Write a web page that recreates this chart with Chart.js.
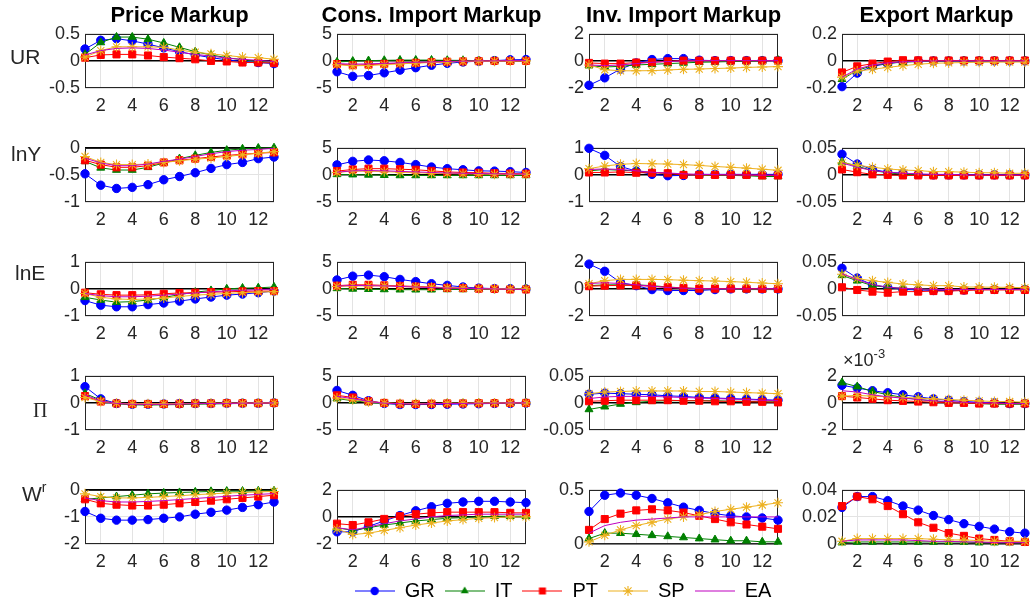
<!DOCTYPE html>
<html>
<head>
<meta charset="utf-8">
<script src="https://cdn.jsdelivr.net/npm/chart.js@4.4.1/dist/chart.umd.min.js"></script>
<style>
  html, body { margin: 0; padding: 0; background: #fff; overflow: hidden; width: 1031px; height: 603px; }
  body { position: relative; font-family: "Liberation Sans", Arial, sans-serif; }
  canvas { position: absolute; }
  .txt { position: absolute; white-space: nowrap; }
  .title { font-weight: bold; font-size: 22px; line-height: 22px; color: #000; transform: translateX(-50%); }
  .rowlab { font-size: 21px; line-height: 21px; color: #262626; }
</style>
</head>
<body>
<script>
// Impulse responses, horizons 1..13, one array per panel, rows in country order
const horizons = [1, 2, 3, 4, 5, 6, 7, 8, 9, 10, 11, 12, 13];
const countries = ['GR', 'IT', 'PT', 'SP', 'EA'];
const columnTitles = ['Price Markup', 'Cons. Import Markup', 'Inv. Import Markup', 'Export Markup'];
const xTickValues = [2, 4, 6, 8, 10, 12];

// UR
const urPrice = [
  [0.22, 0.38, 0.41, 0.37, 0.31, 0.24, 0.17, 0.11, 0.06, 0.02, -0.01, -0.03, -0.05],
  [0.12, 0.34, 0.44, 0.44, 0.40, 0.33, 0.25, 0.17, 0.11, 0.06, 0.02, -0.01, -0.03],
  [0.06, 0.11, 0.12, 0.12, 0.10, 0.07, 0.05, 0.03, 0.00, -0.01, -0.03, -0.03, -0.04],
  [0.07, 0.19, 0.26, 0.26, 0.26, 0.25, 0.20, 0.16, 0.13, 0.10, 0.07, 0.06, 0.03],
  [0.11, 0.19, 0.23, 0.24, 0.23, 0.20, 0.16, 0.12, 0.09, 0.05, 0.03, 0.01, -0.01]
];
const urCons = [
  [-2.0, -2.85, -2.7, -2.2, -1.7, -1.25, -0.8, -0.45, -0.2, -0.05, 0.05, 0.2, 0.25],
  [-0.2, -0.05, 0.05, 0.1, 0.15, 0.15, 0.15, 0.1, 0.1, 0.05, 0.05, 0.0, 0.0],
  [-0.6, -0.8, -0.7, -0.55, -0.45, -0.35, -0.25, -0.15, -0.1, -0.05, 0.0, 0.0, 0.0],
  [-0.7, -0.9, -0.85, -0.7, -0.55, -0.4, -0.3, -0.2, -0.1, -0.05, -0.05, 0.0, 0.0],
  [-0.5, -0.6, -0.55, -0.45, -0.35, -0.25, -0.2, -0.1, -0.05, 0.0, 0.0, 0.05, 0.05]
];
const urInv = [
  [-1.8, -1.25, -0.6, -0.15, 0.1, 0.17, 0.17, 0.05, 0.02, 0.02, 0.02, 0.02, 0.02],
  [-0.35, -0.45, -0.4, -0.3, -0.25, -0.2, -0.15, -0.1, -0.08, -0.05, -0.03, 0.0, 0.05],
  [-0.15, -0.2, -0.2, -0.12, -0.1, -0.03, 0.02, 0.02, 0.02, 0.02, 0.02, 0.02, 0.02],
  [-0.3, -0.65, -0.73, -0.73, -0.72, -0.67, -0.62, -0.6, -0.56, -0.53, -0.48, -0.45, -0.42],
  [-0.3, -0.35, -0.3, -0.2, -0.1, -0.05, 0.0, 0.02, 0.02, 0.02, 0.02, 0.02, 0.02]
];
const urExport = [
  [-0.19, -0.09, -0.04, -0.02, -0.005, 0.0, 0.0, 0.0, 0.0, 0.0, 0.0, 0.0, 0.0],
  [-0.135, -0.07, -0.035, -0.017, -0.01, -0.005, -0.002, 0.0, 0.0, 0.0, 0.0, 0.0, 0.0],
  [-0.085, -0.04, -0.02, -0.005, 0.005, 0.004, 0.003, 0.003, 0.003, 0.003, 0.003, 0.003, 0.003],
  [-0.12, -0.075, -0.062, -0.048, -0.035, -0.025, -0.017, -0.015, -0.012, -0.01, -0.009, -0.009, -0.008],
  [-0.12, -0.06, -0.03, -0.015, -0.007, -0.003, 0.0, 0.0, 0.0, 0.0, 0.0, 0.0, 0.0]
];

// lnY
const lnYPrice = [
  [-0.48, -0.69, -0.75, -0.73, -0.68, -0.59, -0.53, -0.46, -0.38, -0.31, -0.27, -0.20, -0.17],
  [-0.25, -0.37, -0.41, -0.41, -0.36, -0.28, -0.20, -0.14, -0.085, -0.045, -0.02, -0.005, 0.0],
  [-0.23, -0.31, -0.36, -0.36, -0.33, -0.27, -0.23, -0.20, -0.17, -0.14, -0.12, -0.10, -0.085],
  [-0.16, -0.27, -0.31, -0.31, -0.30, -0.27, -0.24, -0.21, -0.19, -0.16, -0.13, -0.10, -0.07],
  [-0.19, -0.28, -0.33, -0.33, -0.30, -0.25, -0.21, -0.16, -0.11, -0.07, -0.045, -0.03, -0.01]
];
const lnYCons = [
  [1.85, 2.5, 2.75, 2.6, 2.3, 1.9, 1.45, 1.15, 0.95, 0.75, 0.7, 0.6, 0.45],
  [0.1, 0.05, 0.0, -0.05, -0.1, -0.1, -0.1, -0.1, -0.1, -0.1, -0.1, -0.1, -0.1],
  [0.7, 1.0, 1.15, 1.15, 1.05, 0.95, 0.75, 0.55, 0.45, 0.4, 0.3, 0.25, 0.2],
  [0.45, 0.7, 0.7, 0.6, 0.5, 0.4, 0.3, 0.25, 0.2, 0.15, 0.1, 0.1, 0.1],
  [0.5, 0.75, 0.8, 0.75, 0.65, 0.55, 0.45, 0.35, 0.3, 0.25, 0.2, 0.15, 0.15]
];
const lnYInv = [
  [0.98, 0.72, 0.31, 0.14, 0.02, -0.03, -0.02, 0.02, 0.02, 0.02, 0.02, 0.02, 0.02],
  [0.15, 0.2, 0.17, 0.15, 0.09, 0.06, 0.02, 0.0, -0.02, -0.02, -0.03, -0.06, -0.06],
  [0.09, 0.09, 0.11, 0.08, 0.08, 0.06, 0.0, 0.0, 0.0, 0.0, 0.0, -0.02, -0.02],
  [0.23, 0.33, 0.39, 0.42, 0.41, 0.4, 0.38, 0.35, 0.31, 0.28, 0.25, 0.21, 0.17],
  [0.2, 0.22, 0.2, 0.15, 0.1, 0.07, 0.04, 0.02, 0.01, 0.0, 0.0, -0.01, -0.01]
];
const lnYExport = [
  [0.038, 0.02, 0.01, 0.005, 0.003, 0.001, 0.0, 0.0, 0.0, 0.0, 0.0, 0.0, 0.0],
  [0.024, 0.016, 0.008, 0.004, 0.001, 0.0, -0.001, -0.001, -0.001, -0.001, -0.001, -0.001, -0.001],
  [0.01, 0.005, 0.001, 0.0, -0.001, -0.001, -0.001, -0.001, -0.001, -0.001, -0.001, -0.001, -0.001],
  [0.022, 0.018, 0.014, 0.011, 0.009, 0.008, 0.006, 0.006, 0.005, 0.004, 0.004, 0.003, 0.003],
  [0.022, 0.014, 0.008, 0.005, 0.003, 0.002, 0.001, 0.001, 0.0, 0.0, 0.0, 0.0, 0.0]
];

// lnE
const lnEPrice = [
  [-0.43, -0.6, -0.66, -0.66, -0.58, -0.52, -0.45, -0.37, -0.3, -0.23, -0.19, -0.14, -0.08],
  [-0.31, -0.41, -0.49, -0.47, -0.41, -0.32, -0.21, -0.12, -0.06, 0.0, 0.03, 0.04, 0.07],
  [-0.14, -0.2, -0.23, -0.23, -0.22, -0.18, -0.15, -0.14, -0.12, -0.11, -0.09, -0.08, -0.08],
  [-0.17, -0.31, -0.37, -0.39, -0.37, -0.34, -0.28, -0.23, -0.2, -0.17, -0.14, -0.12, -0.1],
  [-0.17, -0.25, -0.29, -0.29, -0.27, -0.23, -0.19, -0.15, -0.11, -0.07, -0.05, -0.03, -0.01]
];
const lnECons = [
  [1.65, 2.35, 2.55, 2.25, 1.75, 1.35, 0.95, 0.65, 0.35, 0.15, 0.05, 0.05, 0.0],
  [0.1, 0.0, -0.05, -0.1, -0.15, -0.15, -0.15, -0.1, -0.1, -0.05, -0.05, 0.0, 0.0],
  [0.6, 0.75, 0.75, 0.65, 0.55, 0.45, 0.35, 0.2, 0.15, 0.05, 0.0, -0.1, -0.1],
  [0.45, 0.55, 0.55, 0.55, 0.45, 0.35, 0.3, 0.2, 0.15, 0.05, 0.05, 0.0, 0.0],
  [0.5, 0.65, 0.6, 0.55, 0.45, 0.35, 0.25, 0.15, 0.1, 0.05, 0.0, -0.05, -0.1]
];
const lnEInv = [
  [1.83, 1.3, 0.47, 0.24, -0.05, -0.12, -0.12, -0.12, -0.05, 0.0, 0.0, 0.0, 0.0],
  [0.24, 0.3, 0.3, 0.3, 0.24, 0.14, 0.07, 0.02, 0.0, 0.0, -0.05, -0.05, -0.05],
  [0.2, 0.24, 0.26, 0.26, 0.19, 0.12, 0.07, 0.02, 0.02, 0.02, 0.02, 0.0, 0.0],
  [0.38, 0.61, 0.7, 0.7, 0.7, 0.68, 0.64, 0.61, 0.58, 0.54, 0.49, 0.43, 0.38],
  [0.4, 0.45, 0.4, 0.3, 0.2, 0.1, 0.05, 0.02, 0.0, 0.0, 0.0, 0.0, 0.0]
];
const lnEExport = [
  [0.038, 0.02, 0.0075, 0.003, -0.001, -0.002, -0.003, -0.003, -0.002, -0.001, -0.001, -0.001, -0.001],
  [0.025, 0.015, 0.006, 0.003, 0.001, 0.0, -0.001, -0.001, -0.001, -0.001, -0.001, -0.001, -0.001],
  [0.003, -0.002, -0.005, -0.007, -0.005, -0.005, -0.004, -0.004, -0.003, -0.002, -0.002, -0.002, -0.002],
  [0.027, 0.019, 0.015, 0.012, 0.009, 0.0075, 0.006, 0.006, 0.0035, 0.0035, 0.003, 0.003, 0.002],
  [0.028, 0.017, 0.008, 0.003, 0.001, 0.0, -0.001, -0.001, -0.001, -0.001, -0.001, -0.001, -0.001]
];

// Inflation
const piPrice = [
  [0.6, 0.15, -0.02, -0.05, -0.05, -0.04, -0.03, -0.02, -0.02, -0.01, -0.01, -0.01, 0.0],
  [0.35, 0.1, -0.03, -0.07, -0.08, -0.07, -0.06, -0.05, -0.04, -0.03, -0.02, -0.02, -0.01],
  [0.25, 0.05, -0.02, -0.04, -0.04, -0.04, -0.03, -0.02, -0.02, -0.01, -0.01, -0.01, 0.0],
  [0.2, 0.05, -0.01, -0.03, -0.03, -0.03, -0.02, -0.02, -0.01, -0.01, -0.01, 0.0, 0.0],
  [0.3, 0.07, -0.02, -0.05, -0.05, -0.05, -0.04, -0.03, -0.02, -0.02, -0.01, -0.01, 0.0]
];
const piCons = [
  [2.3, 1.4, 0.4, -0.1, -0.3, -0.3, -0.3, -0.25, -0.2, -0.15, -0.1, -0.1, -0.05],
  [0.8, 0.4, 0.1, -0.1, -0.2, -0.2, -0.15, -0.1, -0.1, -0.05, -0.05, 0.0, 0.0],
  [1.4, 1.0, 0.3, 0.0, -0.15, -0.2, -0.15, -0.1, -0.1, -0.05, -0.05, 0.0, 0.0],
  [0.9, 0.6, 0.2, 0.0, -0.1, -0.1, -0.1, -0.05, -0.05, 0.0, 0.0, 0.0, 0.0],
  [1.2, 0.8, 0.25, -0.05, -0.15, -0.2, -0.15, -0.1, -0.1, -0.05, -0.05, 0.0, 0.0]
];
const piInv = [
  [0.016, 0.018, 0.017, 0.016, 0.015, 0.013, 0.012, 0.01, 0.009, 0.008, 0.007, 0.006, 0.005],
  [-0.012, -0.007, -0.002, 0.001, 0.003, 0.004, 0.004, 0.004, 0.004, 0.003, 0.003, 0.002, 0.002],
  [0.003, 0.004, 0.005, 0.005, 0.005, 0.005, 0.004, 0.004, 0.003, 0.003, 0.002, 0.002, 0.001],
  [0.017, 0.02, 0.021, 0.022, 0.022, 0.022, 0.022, 0.021, 0.021, 0.02, 0.019, 0.018, 0.017],
  [0.008, 0.011, 0.012, 0.012, 0.012, 0.011, 0.01, 0.009, 0.008, 0.007, 0.006, 0.005, 0.004]
];
const piExport = [
  [1.3e-3, 1.1e-3, 0.9e-3, 0.75e-3, 0.6e-3, 0.45e-3, 0.3e-3, 0.2e-3, 0.1e-3, 0.05e-3, 0.0, -0.05e-3, -0.05e-3],
  [1.5e-3, 1.2e-3, 0.85e-3, 0.6e-3, 0.4e-3, 0.25e-3, 0.15e-3, 0.05e-3, 0.0, -0.05e-3, -0.1e-3, -0.1e-3, -0.1e-3],
  [0.5e-3, 0.4e-3, 0.3e-3, 0.2e-3, 0.15e-3, 0.1e-3, 0.05e-3, 0.0, 0.0, -0.05e-3, -0.05e-3, -0.05e-3, -0.05e-3],
  [0.5e-3, 0.55e-3, 0.5e-3, 0.45e-3, 0.4e-3, 0.35e-3, 0.3e-3, 0.25e-3, 0.2e-3, 0.15e-3, 0.1e-3, 0.1e-3, 0.05e-3],
  [0.9e-3, 0.8e-3, 0.6e-3, 0.45e-3, 0.35e-3, 0.25e-3, 0.15e-3, 0.1e-3, 0.05e-3, 0.0, 0.0, -0.05e-3, -0.05e-3]
];

// Real wage
const wrPrice = [
  [-0.8, -1.05, -1.12, -1.12, -1.1, -1.05, -1.0, -0.9, -0.83, -0.75, -0.65, -0.55, -0.45],
  [-0.35, -0.3, -0.25, -0.2, -0.15, -0.12, -0.1, -0.08, -0.06, -0.05, -0.05, -0.04, -0.04],
  [-0.35, -0.5, -0.55, -0.58, -0.58, -0.55, -0.5, -0.45, -0.4, -0.35, -0.3, -0.25, -0.2],
  [-0.15, -0.25, -0.3, -0.3, -0.28, -0.25, -0.22, -0.18, -0.15, -0.12, -0.1, -0.08, -0.06],
  [-0.3, -0.4, -0.45, -0.45, -0.43, -0.4, -0.36, -0.32, -0.28, -0.24, -0.2, -0.17, -0.14]
];
const wrCons = [
  [-1.1, -1.1, -0.7, -0.3, 0.1, 0.45, 0.75, 1.0, 1.1, 1.15, 1.15, 1.1, 1.05],
  [-0.8, -1.0, -0.8, -0.6, -0.45, -0.3, -0.2, -0.1, -0.05, 0.0, 0.05, 0.05, 0.05],
  [-0.5, -0.6, -0.4, -0.15, 0.05, 0.2, 0.3, 0.35, 0.35, 0.35, 0.35, 0.3, 0.3],
  [-0.9, -1.3, -1.2, -1.0, -0.8, -0.6, -0.45, -0.3, -0.2, -0.1, -0.05, 0.0, 0.0],
  [-0.8, -0.95, -0.75, -0.5, -0.3, -0.15, 0.0, 0.1, 0.15, 0.2, 0.2, 0.2, 0.2]
];
const wrInv = [
  [0.3, 0.45, 0.47, 0.45, 0.42, 0.38, 0.34, 0.31, 0.28, 0.26, 0.25, 0.24, 0.22],
  [0.05, 0.1, 0.1, 0.09, 0.08, 0.07, 0.06, 0.05, 0.04, 0.03, 0.03, 0.02, 0.02],
  [0.13, 0.23, 0.28, 0.31, 0.32, 0.31, 0.29, 0.26, 0.23, 0.2, 0.18, 0.16, 0.14],
  [0.02, 0.08, 0.13, 0.17, 0.2, 0.23, 0.25, 0.27, 0.3, 0.32, 0.34, 0.36, 0.38],
  [0.1, 0.17, 0.2, 0.22, 0.23, 0.24, 0.25, 0.25, 0.25, 0.25, 0.25, 0.25, 0.25]
];
const wrExport = [
  [0.027, 0.035, 0.035, 0.032, 0.028, 0.025, 0.021, 0.018, 0.015, 0.013, 0.011, 0.009, 0.008],
  [0.001, 0.0015, 0.0015, 0.0015, 0.0015, 0.0015, 0.0015, 0.0015, 0.0015, 0.001, 0.001, 0.001, 0.001],
  [0.028, 0.035, 0.033, 0.028, 0.022, 0.016, 0.012, 0.008, 0.006, 0.004, 0.003, 0.002, 0.0015],
  [0.002, 0.004, 0.004, 0.004, 0.004, 0.004, 0.0035, 0.003, 0.003, 0.0025, 0.002, 0.002, 0.002],
  [0.002, 0.003, 0.003, 0.003, 0.003, 0.0025, 0.002, 0.002, 0.0015, 0.0015, 0.001, 0.001, 0.001]
];

// y tick labels per panel
const yTicksGrid = [
  [[-0.5, 0, 0.5], [-5, 0, 5], [-2, 0, 2], [-0.2, 0, 0.2]],
  [[-1, -0.5, 0], [-5, 0, 5], [-1, 0, 1], [-0.05, 0, 0.05]],
  [[-1, 0, 1], [-5, 0, 5], [-2, 0, 2], [-0.05, 0, 0.05]],
  [[-1, 0, 1], [-5, 0, 5], [-0.05, 0, 0.05], [-0.002, 0, 0.002]],
  [[-2, -1, 0], [-2, 0, 2], [0, 0.5], [0, 0.02, 0.04]]
];
const panelData = [
  [urPrice, urCons, urInv, urExport],
  [lnYPrice, lnYCons, lnYInv, lnYExport],
  [lnEPrice, lnECons, lnEInv, lnEExport],
  [piPrice, piCons, piInv, piExport],
  [wrPrice, wrCons, wrInv, wrExport]
];

// ---- layout and style ----
const FONT = '"Liberation Sans", Arial, sans-serif';
Chart.defaults.font.family = FONT;
const plotLeft = [85, 337, 589, 842];
const plotTop = [30, 144, 258, 372, 486];
const plotW = 189, plotH = 58;
const padL = 72, padT = 12, padB = 32;
const pageW = 1031;

const seriesStyle = [
  { color: '#0000ff', pointStyle: 'circle',   radius: 4.2 },
  { color: '#008000', pointStyle: 'triangle', radius: 4.6 },
  { color: '#ff0000', pointStyle: 'rect',     radius: 5.0 },
  { color: '#edb120', pointStyle: 'star',     radius: 5.0 },
  { color: '#bf00bf', pointStyle: false,      radius: 0 }
];

function fmtTick(v) {
  const n = Number(v.toPrecision(6));
  return (n === 0 ? 0 : n).toString();
}

const framePlugin = {
  id: 'frame',
  beforeDatasetsDraw(chart) {
    const { ctx, chartArea: a } = chart;
    ctx.save();
    ctx.strokeStyle = '#262626';
    ctx.lineWidth = 1;
    ctx.strokeRect(Math.round(a.left) + 0.5, Math.round(a.top) + 0.5,
                   Math.round(a.right - a.left) - 1, Math.round(a.bottom - a.top) - 1);
    ctx.restore();
  }
};

function addText(html, cls, left, top, extra) {
  const d = document.createElement('div');
  d.className = 'txt ' + cls;
  d.style.left = left + 'px';
  d.style.top = top + 'px';
  if (extra) Object.assign(d.style, extra);
  d.innerHTML = html;
  document.body.appendChild(d);
  return d;
}

function makePanel(r, c) {
  const series = panelData[r][c];
  const ticks = yTicksGrid[r][c];
  const scaled = (r === 3 && c === 3);
  // keep the right-most canvases inside the page
  const padR = Math.max(0, Math.min(8, pageW - (plotLeft[c] + plotW)));
  const cv = document.createElement('canvas');
  cv.width = padL + plotW + padR;
  cv.height = padT + plotH + padB;
  cv.style.left = (plotLeft[c] - padL) + 'px';
  cv.style.top = (plotTop[r] - padT) + 'px';
  document.body.appendChild(cv);

  const datasets = series.map((vals, i) => {
    const s = seriesStyle[i];
    return {
      label: countries[i],
      data: horizons.map((h, k) => ({ x: h, y: vals[k] })),
      borderColor: s.color,
      backgroundColor: s.color,
      borderWidth: 1,
      pointStyle: s.pointStyle,
      pointRadius: s.radius,
      pointBorderWidth: i === 3 ? 1.1 : 1,
      pointBackgroundColor: s.color,
      pointBorderColor: s.color,
      tension: 0,
      clip: 7,
      order: 5 - i
    };
  });

  new Chart(cv, {
    type: 'line',
    data: { datasets },
    options: {
      responsive: false,
      animation: false,
      devicePixelRatio: 1,
      events: [],
      layout: { padding: { top: padT, right: padR, left: 0, bottom: 0 } },
      plugins: { legend: { display: false }, tooltip: { enabled: false } },
      scales: {
        x: {
          type: 'linear', min: 1, max: 13,
          afterBuildTicks: ax => { ax.ticks = xTickValues.map(v => ({ value: v })); },
          afterFit: ax => { ax.height = padB; },
          border: { display: false },
          grid: { color: '#e3e3e3', lineWidth: 1, drawTicks: false },
          ticks: { font: { size: 18 }, color: '#262626', padding: 7, maxRotation: 0, autoSkip: false }
        },
        y: {
          type: 'linear', min: ticks[0], max: ticks[ticks.length - 1],
          afterBuildTicks: ax => { ax.ticks = ticks.map(v => ({ value: v })); },
          afterFit: ax => { ax.width = padL; },
          border: { display: false },
          grid: {
            drawTicks: false,
            color: ctx => (ctx.tick && ctx.tick.value === 0) ? '#000000' : '#e3e3e3',
            lineWidth: ctx => (ctx.tick && ctx.tick.value === 0) ? 1.6 : 1
          },
          ticks: {
            font: { size: 18 }, color: '#262626', padding: 5, autoSkip: false,
            callback: v => fmtTick(scaled ? v * 1000 : v)
          }
        }
      }
    },
    plugins: [framePlugin]
  });
}

for (let r = 0; r < 5; r++) for (let c = 0; c < 4; c++) makePanel(r, c);

// column titles
columnTitles.forEach((t, c) => addText(t, 'title', plotLeft[c] + plotW / 2, 4));

// row labels
addText('UR', 'rowlab', 10, 46);
addText('lnY', 'rowlab', 11, 143);
addText('lnE', 'rowlab', 15, 262);
addText('&Pi;', 'rowlab', 33, 400, { fontFamily: '"Liberation Serif", "DejaVu Serif", serif', fontSize: '20px' });
addText('W<sup style="font-size:14px;vertical-align:9px;line-height:0">r</sup>', 'rowlab', 22, 483);

// exponent of the last inflation panel
addText('&times;10<sup style="font-size:13px;vertical-align:8px;line-height:0">-3</sup>', 'rowlab',
        843, 351, { fontSize: '18px', lineHeight: '18px' });

// legend: line sample with marker
function legendIcon(s) {
  const c = document.createElement('canvas');
  c.width = 40; c.height = 14;
  const g = c.getContext('2d');
  g.strokeStyle = s.color; g.fillStyle = s.color; g.lineWidth = 1.2;
  g.beginPath(); g.moveTo(0, 7); g.lineTo(40, 7); g.stroke();
  const cx = 20, cy = 7;
  g.beginPath();
  if (s.pointStyle === 'circle') {
    g.arc(cx, cy, 4.2, 0, Math.PI * 2); g.fill();
  } else if (s.pointStyle === 'triangle') {
    g.moveTo(cx, cy - 4.6); g.lineTo(cx + 4.0, cy + 2.3); g.lineTo(cx - 4.0, cy + 2.3); g.closePath(); g.fill();
  } else if (s.pointStyle === 'rect') {
    g.rect(cx - 3.5, cy - 3.5, 7, 7); g.fill();
  } else if (s.pointStyle === 'star') {
    for (let k = 0; k < 4; k++) {
      const a = k * Math.PI / 4;
      g.moveTo(cx - 5 * Math.cos(a), cy - 5 * Math.sin(a));
      g.lineTo(cx + 5 * Math.cos(a), cy + 5 * Math.sin(a));
    }
    g.lineWidth = 1.1; g.stroke();
  }
  return c;
}
const legendIcons = seriesStyle.map(legendIcon);

// legend row under the bottom panels
const legendCenter = 590;
const lg = document.createElement('canvas');
lg.width = 540; lg.height = 32;
lg.style.left = '293px';
lg.style.top = (legendCenter - 19) + 'px';
document.body.appendChild(lg);
new Chart(lg, {
  type: 'line',
  data: { datasets: countries.map((c, i) => ({ label: c, data: [], borderColor: seriesStyle[i].color })) },
  options: {
    responsive: false, animation: false, devicePixelRatio: 1, events: [],
    scales: { x: { display: false }, y: { display: false } },
    layout: { padding: 0 },
    plugins: {
      tooltip: { enabled: false },
      legend: {
        display: true, position: 'top', maxHeight: 32,
        labels: {
          usePointStyle: true, pointStyleWidth: 40, padding: 10,
          font: { size: 20 }, color: '#000',
          generateLabels: () => countries.map((c, i) => ({
            text: c, pointStyle: legendIcons[i], fillStyle: seriesStyle[i].color,
            strokeStyle: seriesStyle[i].color, lineWidth: 0, hidden: false, datasetIndex: i, fontColor: '#000'
          }))
        }
      }
    }
  }
});
</script>
</body>
</html>
